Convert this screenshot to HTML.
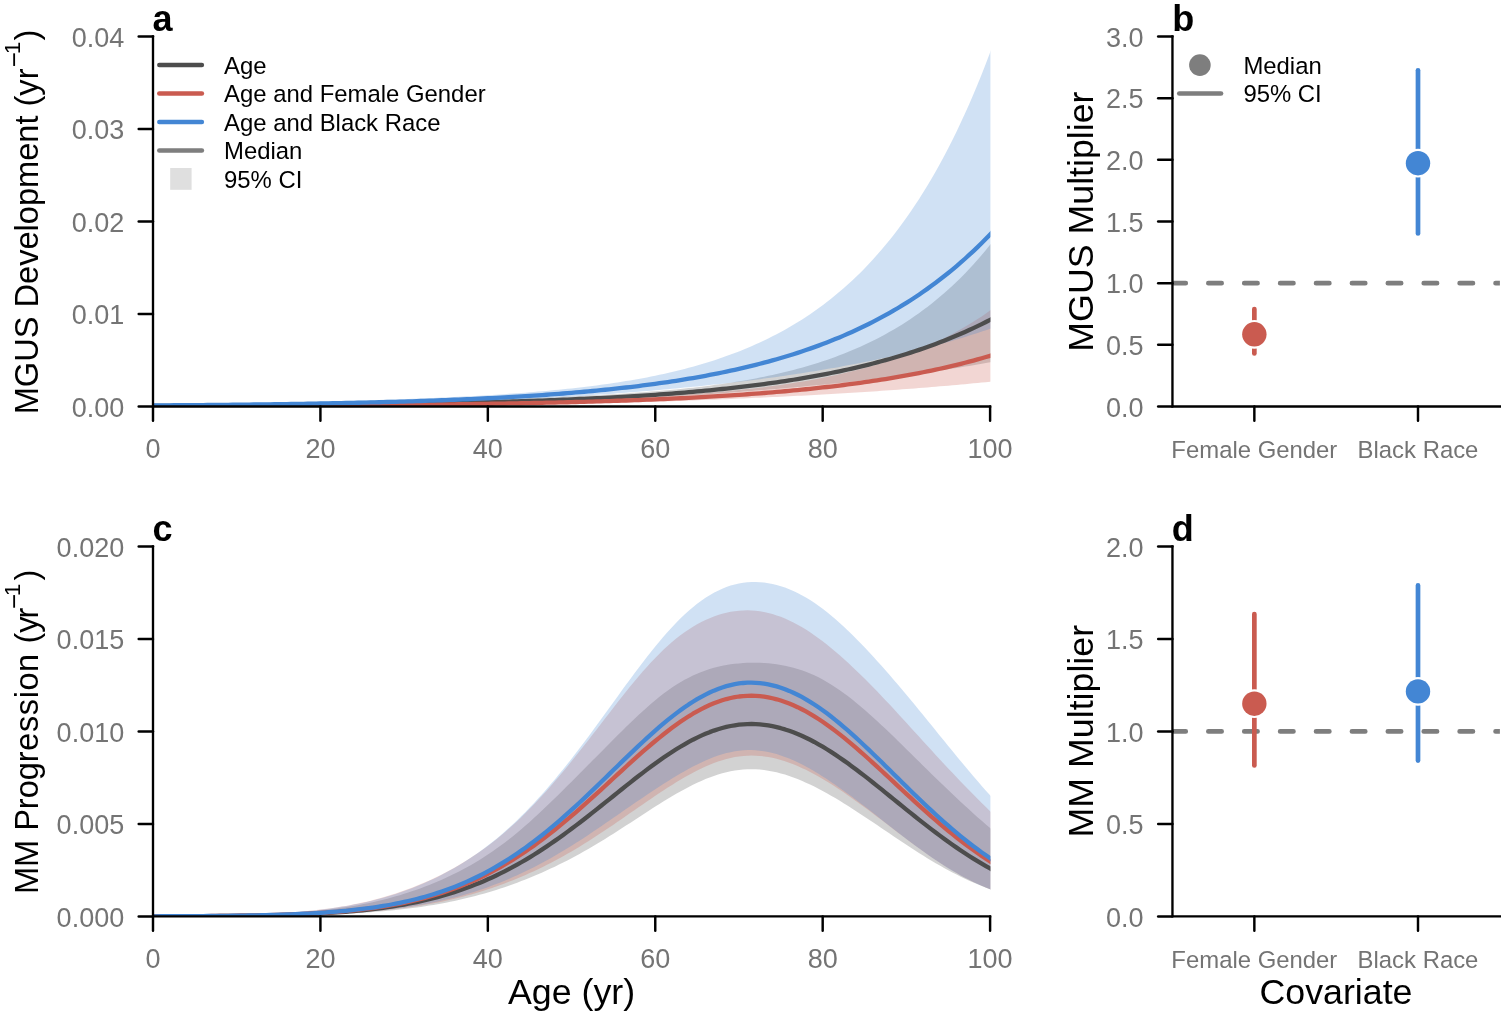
<!DOCTYPE html>
<html lang="en"><head><meta charset="utf-8"><title>Figure</title>
<style>html,body{margin:0;padding:0;background:#fff;}body{width:1501px;height:1022px;overflow:hidden;}svg{display:block;}</style>
</head><body>
<svg width="1501" height="1022" viewBox="0 0 1501 1022" font-family='"Liberation Sans", Arial, Helvetica, sans-serif'>
<rect width="1501" height="1022" fill="#fff"/>
<defs><clipPath id="clipA"><rect x="153.0" y="36.5" width="837.40" height="370.0"/></clipPath><clipPath id="clipC"><rect x="153.0" y="546.4" width="837.40" height="370.0"/></clipPath><clipPath id="clipB"><rect x="1172.45" y="36.5" width="327.45" height="370.0"/></clipPath><clipPath id="clipD"><rect x="1172.45" y="546.4" width="327.45" height="370.0"/></clipPath></defs>
<g id="panel-a">
<g clip-path="url(#clipA)">
<path d="M153.00,404.76 L157.19,404.73 L161.37,404.70 L165.56,404.67 L169.74,404.63 L173.93,404.60 L178.11,404.57 L182.30,404.54 L186.48,404.50 L190.67,404.47 L194.85,404.43 L199.04,404.40 L203.23,404.36 L207.41,404.32 L211.60,404.29 L215.78,404.25 L219.97,404.21 L224.15,404.17 L228.34,404.13 L232.52,404.09 L236.71,404.05 L240.90,404.01 L245.08,403.96 L249.27,403.92 L253.45,403.87 L257.64,403.83 L261.82,403.78 L266.01,403.74 L270.19,403.69 L274.38,403.64 L278.56,403.59 L282.75,403.54 L286.94,403.49 L291.12,403.43 L295.31,403.38 L299.49,403.33 L303.68,403.27 L307.86,403.22 L312.05,403.16 L316.23,403.10 L320.42,403.04 L324.61,402.98 L328.79,402.92 L332.98,402.86 L337.16,402.80 L341.35,402.73 L345.53,402.66 L349.72,402.60 L353.90,402.53 L358.09,402.46 L362.27,402.39 L366.46,402.32 L370.65,402.24 L374.83,402.17 L379.02,402.09 L383.20,402.02 L387.39,401.94 L391.57,401.86 L395.76,401.78 L399.94,401.69 L404.13,401.61 L408.32,401.52 L412.50,401.43 L416.69,401.34 L420.87,401.25 L425.06,401.16 L429.24,401.06 L433.43,400.97 L437.61,400.87 L441.80,400.77 L445.99,400.67 L450.17,400.56 L454.36,400.46 L458.54,400.35 L462.73,400.24 L466.91,400.12 L471.10,400.01 L475.28,399.89 L479.47,399.77 L483.65,399.65 L487.84,399.53 L492.03,399.40 L496.21,399.27 L500.40,399.14 L504.58,399.00 L508.77,398.87 L512.95,398.72 L517.14,398.58 L521.32,398.43 L525.51,398.28 L529.69,398.13 L533.88,397.98 L538.07,397.82 L542.25,397.65 L546.44,397.49 L550.62,397.31 L554.81,397.14 L558.99,396.96 L563.18,396.78 L567.36,396.59 L571.55,396.40 L575.74,396.20 L579.92,396.00 L584.11,395.79 L588.29,395.58 L592.48,395.36 L596.66,395.14 L600.85,394.91 L605.03,394.67 L609.22,394.43 L613.40,394.18 L617.59,393.93 L621.78,393.66 L625.96,393.39 L630.15,393.11 L634.33,392.82 L638.52,392.53 L642.70,392.22 L646.89,391.91 L651.07,391.58 L655.26,391.24 L659.45,390.90 L663.63,390.54 L667.82,390.16 L672.00,389.78 L676.19,389.38 L680.37,388.97 L684.56,388.54 L688.74,388.10 L692.93,387.65 L697.12,387.17 L701.30,386.68 L705.49,386.17 L709.67,385.64 L713.86,385.10 L718.04,384.53 L722.23,383.94 L726.41,383.33 L730.60,382.70 L734.78,382.04 L738.97,381.36 L743.16,380.66 L747.34,379.93 L751.53,379.17 L755.71,378.39 L759.90,377.58 L764.08,376.74 L768.27,375.86 L772.45,374.96 L776.64,374.03 L780.83,373.06 L785.01,372.06 L789.20,371.02 L793.38,369.94 L797.57,368.83 L801.75,367.68 L805.94,366.49 L810.12,365.26 L814.31,363.98 L818.49,362.66 L822.68,361.29 L826.87,359.88 L831.05,358.42 L835.24,356.91 L839.42,355.35 L843.61,353.73 L847.79,352.06 L851.98,350.33 L856.16,348.54 L860.35,346.69 L864.53,344.78 L868.72,342.80 L872.91,340.76 L877.09,338.65 L881.28,336.46 L885.46,334.20 L889.65,331.87 L893.83,329.45 L898.02,326.96 L902.20,324.38 L906.39,321.71 L910.58,318.95 L914.76,316.10 L918.95,313.16 L923.13,310.11 L927.32,306.96 L931.50,303.71 L935.69,300.35 L939.87,296.87 L944.06,293.28 L948.25,289.56 L952.43,285.72 L956.62,281.76 L960.80,277.65 L964.99,273.41 L969.17,269.03 L973.36,264.50 L977.54,259.82 L981.73,254.98 L985.91,249.98 L990.10,244.81 L994.29,239.47 L998.47,233.95 L998.47,360.83 L994.29,361.60 L990.10,362.35 L985.91,363.09 L981.73,363.82 L977.54,364.54 L973.36,365.24 L969.17,365.94 L964.99,366.62 L960.80,367.30 L956.62,367.96 L952.43,368.61 L948.25,369.25 L944.06,369.89 L939.87,370.51 L935.69,371.12 L931.50,371.73 L927.32,372.32 L923.13,372.91 L918.95,373.49 L914.76,374.05 L910.58,374.61 L906.39,375.17 L902.20,375.71 L898.02,376.24 L893.83,376.77 L889.65,377.29 L885.46,377.80 L881.28,378.31 L877.09,378.80 L872.91,379.29 L868.72,379.77 L864.53,380.25 L860.35,380.72 L856.16,381.18 L851.98,381.64 L847.79,382.09 L843.61,382.53 L839.42,382.96 L835.24,383.40 L831.05,383.82 L826.87,384.24 L822.68,384.65 L818.49,385.06 L814.31,385.47 L810.12,385.86 L805.94,386.26 L801.75,386.64 L797.57,387.03 L793.38,387.41 L789.20,387.78 L785.01,388.15 L780.83,388.52 L776.64,388.88 L772.45,389.23 L768.27,389.59 L764.08,389.93 L759.90,390.28 L755.71,390.62 L751.53,390.96 L747.34,391.29 L743.16,391.62 L738.97,391.95 L734.78,392.27 L730.60,392.59 L726.41,392.90 L722.23,393.21 L718.04,393.52 L713.86,393.83 L709.67,394.13 L705.49,394.43 L701.30,394.72 L697.12,395.01 L692.93,395.29 L688.74,395.58 L684.56,395.85 L680.37,396.13 L676.19,396.40 L672.00,396.66 L667.82,396.92 L663.63,397.18 L659.45,397.43 L655.26,397.68 L651.07,397.92 L646.89,398.16 L642.70,398.39 L638.52,398.62 L634.33,398.85 L630.15,399.06 L625.96,399.28 L621.78,399.49 L617.59,399.69 L613.40,399.89 L609.22,400.09 L605.03,400.28 L600.85,400.46 L596.66,400.64 L592.48,400.82 L588.29,400.99 L584.11,401.16 L579.92,401.32 L575.74,401.48 L571.55,401.63 L567.36,401.78 L563.18,401.93 L558.99,402.07 L554.81,402.21 L550.62,402.34 L546.44,402.47 L542.25,402.60 L538.07,402.72 L533.88,402.84 L529.69,402.95 L525.51,403.07 L521.32,403.17 L517.14,403.28 L512.95,403.38 L508.77,403.48 L504.58,403.58 L500.40,403.67 L496.21,403.76 L492.03,403.85 L487.84,403.93 L483.65,404.02 L479.47,404.10 L475.28,404.17 L471.10,404.25 L466.91,404.32 L462.73,404.39 L458.54,404.46 L454.36,404.52 L450.17,404.59 L445.99,404.65 L441.80,404.71 L437.61,404.77 L433.43,404.82 L429.24,404.88 L425.06,404.93 L420.87,404.98 L416.69,405.03 L412.50,405.08 L408.32,405.13 L404.13,405.17 L399.94,405.21 L395.76,405.26 L391.57,405.30 L387.39,405.33 L383.20,405.37 L379.02,405.41 L374.83,405.45 L370.65,405.48 L366.46,405.51 L362.27,405.55 L358.09,405.58 L353.90,405.61 L349.72,405.64 L345.53,405.66 L341.35,405.69 L337.16,405.72 L332.98,405.74 L328.79,405.77 L324.61,405.79 L320.42,405.82 L316.23,405.84 L312.05,405.86 L307.86,405.88 L303.68,405.90 L299.49,405.92 L295.31,405.94 L291.12,405.96 L286.94,405.98 L282.75,405.99 L278.56,406.01 L274.38,406.03 L270.19,406.04 L266.01,406.06 L261.82,406.07 L257.64,406.09 L253.45,406.10 L249.27,406.11 L245.08,406.13 L240.90,406.14 L236.71,406.15 L232.52,406.16 L228.34,406.17 L224.15,406.18 L219.97,406.19 L215.78,406.20 L211.60,406.21 L207.41,406.22 L203.23,406.23 L199.04,406.24 L194.85,406.25 L190.67,406.26 L186.48,406.27 L182.30,406.27 L178.11,406.28 L173.93,406.29 L169.74,406.30 L165.56,406.30 L161.37,406.31 L157.19,406.31 L153.00,406.32 Z" fill="#4D4D4D" fill-opacity="0.25" stroke="none"/>
<path d="M153.00,405.41 L157.19,405.39 L161.37,405.37 L165.56,405.35 L169.74,405.33 L173.93,405.31 L178.11,405.29 L182.30,405.27 L186.48,405.25 L190.67,405.23 L194.85,405.21 L199.04,405.19 L203.23,405.16 L207.41,405.14 L211.60,405.12 L215.78,405.09 L219.97,405.07 L224.15,405.04 L228.34,405.02 L232.52,404.99 L236.71,404.96 L240.90,404.94 L245.08,404.91 L249.27,404.88 L253.45,404.85 L257.64,404.82 L261.82,404.79 L266.01,404.76 L270.19,404.73 L274.38,404.70 L278.56,404.67 L282.75,404.64 L286.94,404.61 L291.12,404.57 L295.31,404.54 L299.49,404.51 L303.68,404.47 L307.86,404.43 L312.05,404.40 L316.23,404.36 L320.42,404.32 L324.61,404.28 L328.79,404.24 L332.98,404.20 L337.16,404.16 L341.35,404.12 L345.53,404.08 L349.72,404.04 L353.90,403.99 L358.09,403.95 L362.27,403.90 L366.46,403.86 L370.65,403.81 L374.83,403.76 L379.02,403.71 L383.20,403.66 L387.39,403.61 L391.57,403.56 L395.76,403.50 L399.94,403.45 L404.13,403.39 L408.32,403.34 L412.50,403.28 L416.69,403.22 L420.87,403.16 L425.06,403.10 L429.24,403.04 L433.43,402.98 L437.61,402.91 L441.80,402.85 L445.99,402.78 L450.17,402.71 L454.36,402.64 L458.54,402.57 L462.73,402.49 L466.91,402.42 L471.10,402.34 L475.28,402.27 L479.47,402.19 L483.65,402.11 L487.84,402.02 L492.03,401.94 L496.21,401.85 L500.40,401.76 L504.58,401.67 L508.77,401.58 L512.95,401.49 L517.14,401.39 L521.32,401.29 L525.51,401.19 L529.69,401.09 L533.88,400.98 L538.07,400.87 L542.25,400.76 L546.44,400.65 L550.62,400.53 L554.81,400.41 L558.99,400.29 L563.18,400.17 L567.36,400.04 L571.55,399.91 L575.74,399.77 L579.92,399.63 L584.11,399.49 L588.29,399.35 L592.48,399.20 L596.66,399.05 L600.85,398.89 L605.03,398.73 L609.22,398.56 L613.40,398.39 L617.59,398.22 L621.78,398.04 L625.96,397.85 L630.15,397.66 L634.33,397.46 L638.52,397.26 L642.70,397.05 L646.89,396.84 L651.07,396.62 L655.26,396.39 L659.45,396.16 L663.63,395.92 L667.82,395.67 L672.00,395.41 L676.19,395.15 L680.37,394.88 L684.56,394.60 L688.74,394.31 L692.93,394.01 L697.12,393.70 L701.30,393.38 L705.49,393.05 L709.67,392.71 L713.86,392.36 L718.04,392.00 L722.23,391.63 L726.41,391.24 L730.60,390.84 L734.78,390.43 L738.97,390.00 L743.16,389.56 L747.34,389.11 L751.53,388.64 L755.71,388.16 L759.90,387.66 L764.08,387.14 L768.27,386.60 L772.45,386.05 L776.64,385.48 L780.83,384.89 L785.01,384.29 L789.20,383.66 L793.38,383.01 L797.57,382.34 L801.75,381.65 L805.94,380.93 L810.12,380.19 L814.31,379.43 L818.49,378.64 L822.68,377.83 L826.87,376.98 L831.05,376.12 L835.24,375.22 L839.42,374.29 L843.61,373.34 L847.79,372.35 L851.98,371.33 L856.16,370.28 L860.35,369.19 L864.53,368.06 L868.72,366.91 L872.91,365.71 L877.09,364.47 L881.28,363.19 L885.46,361.88 L889.65,360.51 L893.83,359.11 L898.02,357.66 L902.20,356.16 L906.39,354.61 L910.58,353.01 L914.76,351.36 L918.95,349.66 L923.13,347.90 L927.32,346.09 L931.50,344.21 L935.69,342.28 L939.87,340.28 L944.06,338.22 L948.25,336.09 L952.43,333.89 L956.62,331.62 L960.80,329.28 L964.99,326.86 L969.17,324.36 L973.36,321.79 L977.54,319.12 L981.73,316.38 L985.91,313.54 L990.10,310.61 L994.29,307.59 L998.47,304.46 L998.47,380.84 L994.29,381.27 L990.10,381.70 L985.91,382.13 L981.73,382.54 L977.54,382.95 L973.36,383.36 L969.17,383.75 L964.99,384.14 L960.80,384.53 L956.62,384.91 L952.43,385.28 L948.25,385.65 L944.06,386.01 L939.87,386.37 L935.69,386.72 L931.50,387.07 L927.32,387.41 L923.13,387.75 L918.95,388.08 L914.76,388.40 L910.58,388.72 L906.39,389.04 L902.20,389.35 L898.02,389.66 L893.83,389.96 L889.65,390.26 L885.46,390.56 L881.28,390.85 L877.09,391.13 L872.91,391.41 L868.72,391.69 L864.53,391.96 L860.35,392.23 L856.16,392.50 L851.98,392.76 L847.79,393.02 L843.61,393.27 L839.42,393.52 L835.24,393.77 L831.05,394.02 L826.87,394.26 L822.68,394.49 L818.49,394.73 L814.31,394.96 L810.12,395.19 L805.94,395.41 L801.75,395.63 L797.57,395.85 L793.38,396.07 L789.20,396.28 L785.01,396.49 L780.83,396.69 L776.64,396.90 L772.45,397.10 L768.27,397.30 L764.08,397.49 L759.90,397.68 L755.71,397.87 L751.53,398.06 L747.34,398.25 L743.16,398.43 L738.97,398.61 L734.78,398.79 L730.60,398.96 L726.41,399.13 L722.23,399.30 L718.04,399.47 L713.86,399.63 L709.67,399.79 L705.49,399.95 L701.30,400.11 L697.12,400.26 L692.93,400.41 L688.74,400.56 L684.56,400.71 L680.37,400.85 L676.19,401.00 L672.00,401.13 L667.82,401.27 L663.63,401.40 L659.45,401.54 L655.26,401.67 L651.07,401.79 L646.89,401.92 L642.70,402.04 L638.52,402.16 L634.33,402.27 L630.15,402.39 L625.96,402.50 L621.78,402.61 L617.59,402.72 L613.40,402.82 L609.22,402.92 L605.03,403.02 L600.85,403.12 L596.66,403.21 L592.48,403.31 L588.29,403.40 L584.11,403.49 L579.92,403.57 L575.74,403.66 L571.55,403.74 L567.36,403.82 L563.18,403.90 L558.99,403.97 L554.81,404.05 L550.62,404.12 L546.44,404.19 L542.25,404.26 L538.07,404.32 L533.88,404.39 L529.69,404.45 L525.51,404.51 L521.32,404.57 L517.14,404.63 L512.95,404.69 L508.77,404.74 L504.58,404.80 L500.40,404.85 L496.21,404.90 L492.03,404.95 L487.84,404.99 L483.65,405.04 L479.47,405.08 L475.28,405.13 L471.10,405.17 L466.91,405.21 L462.73,405.25 L458.54,405.29 L454.36,405.33 L450.17,405.36 L445.99,405.40 L441.80,405.43 L437.61,405.47 L433.43,405.50 L429.24,405.53 L425.06,405.56 L420.87,405.59 L416.69,405.62 L412.50,405.64 L408.32,405.67 L404.13,405.70 L399.94,405.72 L395.76,405.75 L391.57,405.77 L387.39,405.79 L383.20,405.82 L379.02,405.84 L374.83,405.86 L370.65,405.88 L366.46,405.90 L362.27,405.92 L358.09,405.94 L353.90,405.95 L349.72,405.97 L345.53,405.99 L341.35,406.00 L337.16,406.02 L332.98,406.03 L328.79,406.05 L324.61,406.06 L320.42,406.08 L316.23,406.09 L312.05,406.10 L307.86,406.12 L303.68,406.13 L299.49,406.14 L295.31,406.15 L291.12,406.16 L286.94,406.17 L282.75,406.18 L278.56,406.19 L274.38,406.20 L270.19,406.21 L266.01,406.22 L261.82,406.23 L257.64,406.24 L253.45,406.25 L249.27,406.26 L245.08,406.26 L240.90,406.27 L236.71,406.28 L232.52,406.29 L228.34,406.29 L224.15,406.30 L219.97,406.31 L215.78,406.31 L211.60,406.32 L207.41,406.32 L203.23,406.33 L199.04,406.34 L194.85,406.34 L190.67,406.35 L186.48,406.35 L182.30,406.36 L178.11,406.36 L173.93,406.36 L169.74,406.37 L165.56,406.37 L161.37,406.38 L157.19,406.38 L153.00,406.38 Z" fill="#CA5B50" fill-opacity="0.25" stroke="none"/>
<path d="M153.00,404.21 L157.19,404.17 L161.37,404.13 L165.56,404.08 L169.74,404.03 L173.93,403.99 L178.11,403.94 L182.30,403.89 L186.48,403.84 L190.67,403.79 L194.85,403.73 L199.04,403.68 L203.23,403.62 L207.41,403.57 L211.60,403.51 L215.78,403.45 L219.97,403.40 L224.15,403.34 L228.34,403.27 L232.52,403.21 L236.71,403.15 L240.90,403.08 L245.08,403.02 L249.27,402.95 L253.45,402.88 L257.64,402.81 L261.82,402.73 L266.01,402.66 L270.19,402.59 L274.38,402.51 L278.56,402.43 L282.75,402.35 L286.94,402.27 L291.12,402.19 L295.31,402.10 L299.49,402.01 L303.68,401.93 L307.86,401.83 L312.05,401.74 L316.23,401.65 L320.42,401.55 L324.61,401.45 L328.79,401.35 L332.98,401.25 L337.16,401.14 L341.35,401.04 L345.53,400.93 L349.72,400.82 L353.90,400.70 L358.09,400.58 L362.27,400.46 L366.46,400.34 L370.65,400.22 L374.83,400.09 L379.02,399.96 L383.20,399.83 L387.39,399.69 L391.57,399.55 L395.76,399.41 L399.94,399.26 L404.13,399.11 L408.32,398.96 L412.50,398.80 L416.69,398.64 L420.87,398.47 L425.06,398.31 L429.24,398.13 L433.43,397.96 L437.61,397.77 L441.80,397.59 L445.99,397.40 L450.17,397.20 L454.36,397.00 L458.54,396.80 L462.73,396.59 L466.91,396.37 L471.10,396.15 L475.28,395.92 L479.47,395.69 L483.65,395.44 L487.84,395.20 L492.03,394.94 L496.21,394.68 L500.40,394.41 L504.58,394.14 L508.77,393.85 L512.95,393.56 L517.14,393.26 L521.32,392.95 L525.51,392.63 L529.69,392.30 L533.88,391.97 L538.07,391.62 L542.25,391.26 L546.44,390.89 L550.62,390.51 L554.81,390.11 L558.99,389.71 L563.18,389.29 L567.36,388.86 L571.55,388.41 L575.74,387.95 L579.92,387.48 L584.11,386.99 L588.29,386.48 L592.48,385.96 L596.66,385.42 L600.85,384.86 L605.03,384.29 L609.22,383.69 L613.40,383.08 L617.59,382.44 L621.78,381.79 L625.96,381.11 L630.15,380.41 L634.33,379.69 L638.52,378.94 L642.70,378.17 L646.89,377.38 L651.07,376.55 L655.26,375.70 L659.45,374.83 L663.63,373.92 L667.82,372.98 L672.00,372.01 L676.19,371.01 L680.37,369.98 L684.56,368.91 L688.74,367.81 L692.93,366.67 L697.12,365.50 L701.30,364.28 L705.49,363.03 L709.67,361.73 L713.86,360.39 L718.04,359.01 L722.23,357.58 L726.41,356.11 L730.60,354.59 L734.78,353.02 L738.97,351.39 L743.16,349.72 L747.34,347.99 L751.53,346.20 L755.71,344.36 L759.90,342.45 L764.08,340.49 L768.27,338.45 L772.45,336.36 L776.64,334.19 L780.83,331.96 L785.01,329.65 L789.20,327.27 L793.38,324.81 L797.57,322.27 L801.75,319.65 L805.94,316.94 L810.12,314.14 L814.31,311.26 L818.49,308.28 L822.68,305.20 L826.87,302.03 L831.05,298.75 L835.24,295.36 L839.42,291.87 L843.61,288.26 L847.79,284.54 L851.98,280.70 L856.16,276.73 L860.35,272.63 L864.53,268.40 L868.72,264.03 L872.91,259.53 L877.09,254.87 L881.28,250.07 L885.46,245.11 L889.65,239.99 L893.83,234.70 L898.02,229.24 L902.20,223.61 L906.39,217.79 L910.58,211.79 L914.76,205.59 L918.95,199.19 L923.13,192.58 L927.32,185.76 L931.50,178.72 L935.69,171.45 L939.87,163.95 L944.06,156.20 L948.25,148.20 L952.43,139.95 L956.62,131.42 L960.80,122.62 L964.99,113.54 L969.17,104.16 L973.36,94.48 L977.54,84.48 L981.73,74.16 L985.91,63.51 L990.10,52.51 L994.29,41.15 L998.47,29.43 L998.47,325.83 L994.29,327.31 L990.10,328.75 L985.91,330.18 L981.73,331.57 L977.54,332.95 L973.36,334.29 L969.17,335.62 L964.99,336.92 L960.80,338.20 L956.62,339.45 L952.43,340.68 L948.25,341.89 L944.06,343.08 L939.87,344.25 L935.69,345.40 L931.50,346.53 L927.32,347.63 L923.13,348.72 L918.95,349.79 L914.76,350.84 L910.58,351.87 L906.39,352.89 L902.20,353.88 L898.02,354.86 L893.83,355.82 L889.65,356.77 L885.46,357.69 L881.28,358.60 L877.09,359.50 L872.91,360.38 L868.72,361.24 L864.53,362.09 L860.35,362.93 L856.16,363.75 L851.98,364.55 L847.79,365.34 L843.61,366.12 L839.42,366.88 L835.24,367.64 L831.05,368.37 L826.87,369.10 L822.68,369.81 L818.49,370.51 L814.31,371.20 L810.12,371.87 L805.94,372.54 L801.75,373.19 L797.57,373.83 L793.38,374.47 L789.20,375.09 L785.01,375.70 L780.83,376.29 L776.64,376.88 L772.45,377.46 L768.27,378.03 L764.08,378.59 L759.90,379.14 L755.71,379.68 L751.53,380.21 L747.34,380.74 L743.16,381.25 L738.97,381.76 L734.78,382.25 L730.60,382.74 L726.41,383.22 L722.23,383.70 L718.04,384.16 L713.86,384.62 L709.67,385.07 L705.49,385.51 L701.30,385.95 L697.12,386.38 L692.93,386.80 L688.74,387.21 L684.56,387.62 L680.37,388.02 L676.19,388.42 L672.00,388.81 L667.82,389.19 L663.63,389.57 L659.45,389.94 L655.26,390.30 L651.07,390.66 L646.89,391.01 L642.70,391.36 L638.52,391.70 L634.33,392.04 L630.15,392.37 L625.96,392.69 L621.78,393.01 L617.59,393.33 L613.40,393.64 L609.22,393.94 L605.03,394.24 L600.85,394.54 L596.66,394.83 L592.48,395.11 L588.29,395.39 L584.11,395.66 L579.92,395.93 L575.74,396.20 L571.55,396.46 L567.36,396.71 L563.18,396.96 L558.99,397.21 L554.81,397.45 L550.62,397.69 L546.44,397.92 L542.25,398.15 L538.07,398.37 L533.88,398.59 L529.69,398.80 L525.51,399.01 L521.32,399.21 L517.14,399.41 L512.95,399.61 L508.77,399.80 L504.58,399.98 L500.40,400.17 L496.21,400.34 L492.03,400.52 L487.84,400.69 L483.65,400.85 L479.47,401.01 L475.28,401.17 L471.10,401.32 L466.91,401.47 L462.73,401.62 L458.54,401.76 L454.36,401.90 L450.17,402.03 L445.99,402.17 L441.80,402.29 L437.61,402.42 L433.43,402.54 L429.24,402.66 L425.06,402.77 L420.87,402.88 L416.69,402.99 L412.50,403.10 L408.32,403.20 L404.13,403.30 L399.94,403.39 L395.76,403.49 L391.57,403.58 L387.39,403.67 L383.20,403.75 L379.02,403.84 L374.83,403.92 L370.65,404.00 L366.46,404.07 L362.27,404.15 L358.09,404.22 L353.90,404.29 L349.72,404.36 L345.53,404.43 L341.35,404.49 L337.16,404.55 L332.98,404.61 L328.79,404.67 L324.61,404.73 L320.42,404.78 L316.23,404.83 L312.05,404.89 L307.86,404.94 L303.68,404.99 L299.49,405.03 L295.31,405.08 L291.12,405.12 L286.94,405.17 L282.75,405.21 L278.56,405.25 L274.38,405.29 L270.19,405.33 L266.01,405.36 L261.82,405.40 L257.64,405.43 L253.45,405.47 L249.27,405.50 L245.08,405.53 L240.90,405.56 L236.71,405.59 L232.52,405.62 L228.34,405.65 L224.15,405.67 L219.97,405.70 L215.78,405.72 L211.60,405.75 L207.41,405.77 L203.23,405.80 L199.04,405.82 L194.85,405.84 L190.67,405.86 L186.48,405.88 L182.30,405.90 L178.11,405.92 L173.93,405.94 L169.74,405.96 L165.56,405.97 L161.37,405.99 L157.19,406.01 L153.00,406.02 Z" fill="#4386D4" fill-opacity="0.25" stroke="none"/>
<path d="M153.00,405.92 L157.19,405.90 L161.37,405.89 L165.56,405.87 L169.74,405.85 L173.93,405.84 L178.11,405.82 L182.30,405.80 L186.48,405.79 L190.67,405.77 L194.85,405.75 L199.04,405.73 L203.23,405.71 L207.41,405.69 L211.60,405.67 L215.78,405.65 L219.97,405.63 L224.15,405.61 L228.34,405.58 L232.52,405.56 L236.71,405.54 L240.90,405.51 L245.08,405.49 L249.27,405.46 L253.45,405.44 L257.64,405.41 L261.82,405.38 L266.01,405.35 L270.19,405.32 L274.38,405.29 L278.56,405.26 L282.75,405.23 L286.94,405.20 L291.12,405.17 L295.31,405.13 L299.49,405.10 L303.68,405.06 L307.86,405.03 L312.05,404.99 L316.23,404.95 L320.42,404.91 L324.61,404.87 L328.79,404.83 L332.98,404.79 L337.16,404.75 L341.35,404.70 L345.53,404.66 L349.72,404.61 L353.90,404.56 L358.09,404.51 L362.27,404.46 L366.46,404.41 L370.65,404.36 L374.83,404.30 L379.02,404.25 L383.20,404.19 L387.39,404.13 L391.57,404.07 L395.76,404.01 L399.94,403.95 L404.13,403.88 L408.32,403.82 L412.50,403.75 L416.69,403.68 L420.87,403.61 L425.06,403.54 L429.24,403.46 L433.43,403.38 L437.61,403.30 L441.80,403.22 L445.99,403.14 L450.17,403.06 L454.36,402.97 L458.54,402.88 L462.73,402.79 L466.91,402.69 L471.10,402.60 L475.28,402.50 L479.47,402.40 L483.65,402.29 L487.84,402.19 L492.03,402.08 L496.21,401.97 L500.40,401.85 L504.58,401.73 L508.77,401.61 L512.95,401.49 L517.14,401.36 L521.32,401.23 L525.51,401.10 L529.69,400.96 L533.88,400.82 L538.07,400.68 L542.25,400.53 L546.44,400.38 L550.62,400.22 L554.81,400.07 L558.99,399.90 L563.18,399.74 L567.36,399.56 L571.55,399.39 L575.74,399.21 L579.92,399.02 L584.11,398.84 L588.29,398.64 L592.48,398.44 L596.66,398.24 L600.85,398.03 L605.03,397.82 L609.22,397.60 L613.40,397.37 L617.59,397.14 L621.78,396.90 L625.96,396.66 L630.15,396.41 L634.33,396.15 L638.52,395.89 L642.70,395.62 L646.89,395.35 L651.07,395.07 L655.26,394.78 L659.45,394.48 L663.63,394.18 L667.82,393.86 L672.00,393.54 L676.19,393.22 L680.37,392.88 L684.56,392.53 L688.74,392.18 L692.93,391.82 L697.12,391.45 L701.30,391.07 L705.49,390.68 L709.67,390.27 L713.86,389.86 L718.04,389.44 L722.23,389.01 L726.41,388.57 L730.60,388.11 L734.78,387.65 L738.97,387.17 L743.16,386.68 L747.34,386.18 L751.53,385.67 L755.71,385.14 L759.90,384.60 L764.08,384.04 L768.27,383.47 L772.45,382.89 L776.64,382.29 L780.83,381.68 L785.01,381.05 L789.20,380.41 L793.38,379.75 L797.57,379.07 L801.75,378.38 L805.94,377.67 L810.12,376.94 L814.31,376.19 L818.49,375.42 L822.68,374.63 L826.87,373.83 L831.05,373.00 L835.24,372.15 L839.42,371.28 L843.61,370.39 L847.79,369.48 L851.98,368.54 L856.16,367.58 L860.35,366.59 L864.53,365.58 L868.72,364.55 L872.91,363.48 L877.09,362.39 L881.28,361.28 L885.46,360.13 L889.65,358.96 L893.83,357.76 L898.02,356.52 L902.20,355.26 L906.39,353.96 L910.58,352.63 L914.76,351.27 L918.95,349.87 L923.13,348.43 L927.32,346.96 L931.50,345.46 L935.69,343.91 L939.87,342.33 L944.06,340.70 L948.25,339.04 L952.43,337.33 L956.62,335.58 L960.80,333.78 L964.99,331.94 L969.17,330.05 L973.36,328.12 L977.54,326.13 L981.73,324.10 L985.91,322.01 L990.10,319.87 L994.29,317.68 L998.47,315.43" fill="none" stroke="#4D4D4D" stroke-width="4.3" stroke-linejoin="round" stroke-linecap="butt"/>
<path d="M153.00,406.12 L157.19,406.11 L161.37,406.10 L165.56,406.09 L169.74,406.08 L173.93,406.07 L178.11,406.06 L182.30,406.05 L186.48,406.04 L190.67,406.03 L194.85,406.02 L199.04,406.01 L203.23,405.99 L207.41,405.98 L211.60,405.97 L215.78,405.95 L219.97,405.94 L224.15,405.93 L228.34,405.91 L232.52,405.90 L236.71,405.88 L240.90,405.87 L245.08,405.85 L249.27,405.84 L253.45,405.82 L257.64,405.80 L261.82,405.79 L266.01,405.77 L270.19,405.75 L274.38,405.73 L278.56,405.71 L282.75,405.69 L286.94,405.67 L291.12,405.65 L295.31,405.63 L299.49,405.61 L303.68,405.59 L307.86,405.57 L312.05,405.54 L316.23,405.52 L320.42,405.49 L324.61,405.47 L328.79,405.44 L332.98,405.42 L337.16,405.39 L341.35,405.36 L345.53,405.34 L349.72,405.31 L353.90,405.28 L358.09,405.25 L362.27,405.22 L366.46,405.18 L370.65,405.15 L374.83,405.12 L379.02,405.08 L383.20,405.05 L387.39,405.01 L391.57,404.97 L395.76,404.94 L399.94,404.90 L404.13,404.86 L408.32,404.82 L412.50,404.78 L416.69,404.73 L420.87,404.69 L425.06,404.64 L429.24,404.60 L433.43,404.55 L437.61,404.50 L441.80,404.45 L445.99,404.40 L450.17,404.35 L454.36,404.30 L458.54,404.24 L462.73,404.19 L466.91,404.13 L471.10,404.07 L475.28,404.01 L479.47,403.95 L483.65,403.89 L487.84,403.82 L492.03,403.75 L496.21,403.69 L500.40,403.62 L504.58,403.54 L508.77,403.47 L512.95,403.40 L517.14,403.32 L521.32,403.24 L525.51,403.16 L529.69,403.08 L533.88,402.99 L538.07,402.90 L542.25,402.82 L546.44,402.72 L550.62,402.63 L554.81,402.53 L558.99,402.44 L563.18,402.34 L567.36,402.23 L571.55,402.13 L575.74,402.02 L579.92,401.91 L584.11,401.79 L588.29,401.68 L592.48,401.56 L596.66,401.43 L600.85,401.31 L605.03,401.18 L609.22,401.05 L613.40,400.91 L617.59,400.77 L621.78,400.63 L625.96,400.49 L630.15,400.34 L634.33,400.18 L638.52,400.03 L642.70,399.87 L646.89,399.70 L651.07,399.53 L655.26,399.36 L659.45,399.18 L663.63,399.00 L667.82,398.82 L672.00,398.63 L676.19,398.43 L680.37,398.23 L684.56,398.03 L688.74,397.82 L692.93,397.60 L697.12,397.38 L701.30,397.15 L705.49,396.92 L709.67,396.68 L713.86,396.44 L718.04,396.19 L722.23,395.93 L726.41,395.67 L730.60,395.40 L734.78,395.13 L738.97,394.85 L743.16,394.56 L747.34,394.26 L751.53,393.96 L755.71,393.65 L759.90,393.33 L764.08,393.00 L768.27,392.67 L772.45,392.32 L776.64,391.97 L780.83,391.61 L785.01,391.24 L789.20,390.86 L793.38,390.48 L797.57,390.08 L801.75,389.67 L805.94,389.25 L810.12,388.83 L814.31,388.39 L818.49,387.94 L822.68,387.48 L826.87,387.01 L831.05,386.52 L835.24,386.03 L839.42,385.52 L843.61,385.00 L847.79,384.47 L851.98,383.92 L856.16,383.36 L860.35,382.79 L864.53,382.20 L868.72,381.60 L872.91,380.98 L877.09,380.34 L881.28,379.70 L885.46,379.03 L889.65,378.35 L893.83,377.65 L898.02,376.94 L902.20,376.20 L906.39,375.45 L910.58,374.68 L914.76,373.89 L918.95,373.08 L923.13,372.25 L927.32,371.41 L931.50,370.53 L935.69,369.64 L939.87,368.73 L944.06,367.79 L948.25,366.83 L952.43,365.85 L956.62,364.84 L960.80,363.81 L964.99,362.75 L969.17,361.66 L973.36,360.55 L977.54,359.41 L981.73,358.24 L985.91,357.05 L990.10,355.82 L994.29,354.56 L998.47,353.27" fill="none" stroke="#CA5B50" stroke-width="4.3" stroke-linejoin="round" stroke-linecap="butt"/>
<path d="M153.00,405.41 L157.19,405.39 L161.37,405.36 L165.56,405.33 L169.74,405.30 L173.93,405.27 L178.11,405.24 L182.30,405.20 L186.48,405.17 L190.67,405.14 L194.85,405.10 L199.04,405.07 L203.23,405.03 L207.41,404.99 L211.60,404.95 L215.78,404.91 L219.97,404.87 L224.15,404.83 L228.34,404.79 L232.52,404.74 L236.71,404.70 L240.90,404.65 L245.08,404.60 L249.27,404.56 L253.45,404.51 L257.64,404.45 L261.82,404.40 L266.01,404.35 L270.19,404.29 L274.38,404.24 L278.56,404.18 L282.75,404.12 L286.94,404.06 L291.12,404.00 L295.31,403.93 L299.49,403.87 L303.68,403.80 L307.86,403.73 L312.05,403.66 L316.23,403.58 L320.42,403.51 L324.61,403.43 L328.79,403.35 L332.98,403.27 L337.16,403.19 L341.35,403.11 L345.53,403.02 L349.72,402.93 L353.90,402.84 L358.09,402.74 L362.27,402.65 L366.46,402.55 L370.65,402.45 L374.83,402.34 L379.02,402.24 L383.20,402.13 L387.39,402.02 L391.57,401.90 L395.76,401.78 L399.94,401.66 L404.13,401.54 L408.32,401.41 L412.50,401.28 L416.69,401.15 L420.87,401.01 L425.06,400.87 L429.24,400.72 L433.43,400.57 L437.61,400.42 L441.80,400.27 L445.99,400.11 L450.17,399.94 L454.36,399.77 L458.54,399.60 L462.73,399.43 L466.91,399.24 L471.10,399.06 L475.28,398.87 L479.47,398.67 L483.65,398.47 L487.84,398.26 L492.03,398.05 L496.21,397.84 L500.40,397.61 L504.58,397.39 L508.77,397.15 L512.95,396.91 L517.14,396.67 L521.32,396.41 L525.51,396.16 L529.69,395.89 L533.88,395.62 L538.07,395.34 L542.25,395.05 L546.44,394.76 L550.62,394.46 L554.81,394.15 L558.99,393.83 L563.18,393.51 L567.36,393.18 L571.55,392.83 L575.74,392.48 L579.92,392.12 L584.11,391.75 L588.29,391.38 L592.48,390.99 L596.66,390.59 L600.85,390.18 L605.03,389.76 L609.22,389.33 L613.40,388.89 L617.59,388.44 L621.78,387.98 L625.96,387.50 L630.15,387.02 L634.33,386.52 L638.52,386.01 L642.70,385.48 L646.89,384.94 L651.07,384.39 L655.26,383.82 L659.45,383.24 L663.63,382.64 L667.82,382.03 L672.00,381.40 L676.19,380.76 L680.37,380.10 L684.56,379.42 L688.74,378.73 L692.93,378.01 L697.12,377.28 L701.30,376.53 L705.49,375.77 L709.67,374.98 L713.86,374.17 L718.04,373.34 L722.23,372.49 L726.41,371.62 L730.60,370.72 L734.78,369.81 L738.97,368.86 L743.16,367.90 L747.34,366.91 L751.53,365.89 L755.71,364.85 L759.90,363.78 L764.08,362.69 L768.27,361.56 L772.45,360.41 L776.64,359.23 L780.83,358.02 L785.01,356.77 L789.20,355.50 L793.38,354.19 L797.57,352.85 L801.75,351.47 L805.94,350.06 L810.12,348.61 L814.31,347.13 L818.49,345.61 L822.68,344.04 L826.87,342.44 L831.05,340.80 L835.24,339.11 L839.42,337.39 L843.61,335.61 L847.79,333.80 L851.98,331.93 L856.16,330.02 L860.35,328.06 L864.53,326.04 L868.72,323.98 L872.91,321.86 L877.09,319.69 L881.28,317.47 L885.46,315.18 L889.65,312.84 L893.83,310.44 L898.02,307.98 L902.20,305.45 L906.39,302.86 L910.58,300.20 L914.76,297.47 L918.95,294.68 L923.13,291.81 L927.32,288.87 L931.50,285.85 L935.69,282.75 L939.87,279.58 L944.06,276.32 L948.25,272.99 L952.43,269.56 L956.62,266.05 L960.80,262.45 L964.99,258.75 L969.17,254.96 L973.36,251.08 L977.54,247.09 L981.73,243.00 L985.91,238.81 L990.10,234.51 L994.29,230.10 L998.47,225.57" fill="none" stroke="#4386D4" stroke-width="4.3" stroke-linejoin="round" stroke-linecap="butt"/>
</g>
<path d="M153.00,36.50 L153.00,406.50 L990.10,406.50" fill="none" stroke="#000" stroke-width="2.35" stroke-linecap="square" stroke-linejoin="miter"/>
<line x1="153.00" y1="406.50" x2="153.00" y2="420.80" stroke="#000" stroke-width="2.45" stroke-linecap="round"/>
<line x1="320.42" y1="406.50" x2="320.42" y2="420.80" stroke="#000" stroke-width="2.45" stroke-linecap="round"/>
<line x1="487.84" y1="406.50" x2="487.84" y2="420.80" stroke="#000" stroke-width="2.45" stroke-linecap="round"/>
<line x1="655.26" y1="406.50" x2="655.26" y2="420.80" stroke="#000" stroke-width="2.45" stroke-linecap="round"/>
<line x1="822.68" y1="406.50" x2="822.68" y2="420.80" stroke="#000" stroke-width="2.45" stroke-linecap="round"/>
<line x1="990.10" y1="406.50" x2="990.10" y2="420.80" stroke="#000" stroke-width="2.45" stroke-linecap="round"/>
<line x1="153.00" y1="406.50" x2="138.70" y2="406.50" stroke="#000" stroke-width="2.45" stroke-linecap="round"/>
<line x1="153.00" y1="314.00" x2="138.70" y2="314.00" stroke="#000" stroke-width="2.45" stroke-linecap="round"/>
<line x1="153.00" y1="221.50" x2="138.70" y2="221.50" stroke="#000" stroke-width="2.45" stroke-linecap="round"/>
<line x1="153.00" y1="129.00" x2="138.70" y2="129.00" stroke="#000" stroke-width="2.45" stroke-linecap="round"/>
<line x1="153.00" y1="36.50" x2="138.70" y2="36.50" stroke="#000" stroke-width="2.45" stroke-linecap="round"/>
<text x="153.00" y="458.20" font-size="27" fill="#747474" text-anchor="middle">0</text>
<text x="320.42" y="458.20" font-size="27" fill="#747474" text-anchor="middle">20</text>
<text x="487.84" y="458.20" font-size="27" fill="#747474" text-anchor="middle">40</text>
<text x="655.26" y="458.20" font-size="27" fill="#747474" text-anchor="middle">60</text>
<text x="822.68" y="458.20" font-size="27" fill="#747474" text-anchor="middle">80</text>
<text x="990.10" y="458.20" font-size="27" fill="#747474" text-anchor="middle">100</text>
<text x="124.20" y="416.60" font-size="27" fill="#747474" text-anchor="end">0.00</text>
<text x="124.20" y="324.10" font-size="27" fill="#747474" text-anchor="end">0.01</text>
<text x="124.20" y="231.60" font-size="27" fill="#747474" text-anchor="end">0.02</text>
<text x="124.20" y="139.10" font-size="27" fill="#747474" text-anchor="end">0.03</text>
<text x="124.20" y="46.60" font-size="27" fill="#747474" text-anchor="end">0.04</text>
<line x1="159.3" y1="65.05" x2="201.9" y2="65.05" stroke="#4D4D4D" stroke-width="4.5" stroke-linecap="round"/>
<line x1="159.3" y1="93.5" x2="201.9" y2="93.5" stroke="#CA5B50" stroke-width="4.5" stroke-linecap="round"/>
<line x1="159.3" y1="122.0" x2="201.9" y2="122.0" stroke="#4386D4" stroke-width="4.5" stroke-linecap="round"/>
<line x1="159.3" y1="150.45" x2="201.9" y2="150.45" stroke="#7E7E7E" stroke-width="4.5" stroke-linecap="round"/>
<rect x="170.2" y="168" width="21.4" height="21.8" fill="#7E7E7E" fill-opacity="0.25"/>
<text x="224" y="74.0" font-size="23.9" fill="#000">Age</text>
<text x="224" y="102.3" font-size="23.9" fill="#000">Age and Female Gender</text>
<text x="224" y="130.8" font-size="23.9" fill="#000">Age and Black Race</text>
<text x="224" y="159.2" font-size="23.9" fill="#000">Median</text>
<text x="224" y="187.6" font-size="23.9" fill="#000">95% CI</text>
<text x="152.6" y="31.2" font-size="36" font-weight="bold" fill="#000">a</text>
<text transform="translate(37.6,222.0) rotate(-90)" font-size="32.6" fill="#000" text-anchor="middle">MGUS Development (yr<tspan font-size="26" dy="-14.15" dx="1.3">−</tspan><tspan font-size="22.5" dy="-3.85" dx="-2.3">1</tspan><tspan dy="18" dx="1.2">)</tspan></text>
</g>
<g id="panel-c">
<g clip-path="url(#clipC)">
<path d="M153.00,916.21 L157.19,916.20 L161.37,916.17 L165.56,916.15 L169.74,916.13 L173.93,916.10 L178.11,916.07 L182.30,916.04 L186.48,916.00 L190.67,915.96 L194.85,915.92 L199.04,915.88 L203.23,915.83 L207.41,915.77 L211.60,915.71 L215.78,915.65 L219.97,915.58 L224.15,915.50 L228.34,915.42 L232.52,915.33 L236.71,915.23 L240.90,915.12 L245.08,915.01 L249.27,914.89 L253.45,914.75 L257.64,914.61 L261.82,914.45 L266.01,914.28 L270.19,914.10 L274.38,913.90 L278.56,913.69 L282.75,913.46 L286.94,913.21 L291.12,912.95 L295.31,912.67 L299.49,912.36 L303.68,912.03 L307.86,911.68 L312.05,911.31 L316.23,910.91 L320.42,910.48 L324.61,910.02 L328.79,909.53 L332.98,909.01 L337.16,908.46 L341.35,907.87 L345.53,907.25 L349.72,906.58 L353.90,905.88 L358.09,905.14 L362.27,904.35 L366.46,903.52 L370.65,902.65 L374.83,901.72 L379.02,900.75 L383.20,899.73 L387.39,898.66 L391.57,897.54 L395.76,896.36 L399.94,895.13 L404.13,893.84 L408.32,892.50 L412.50,891.11 L416.69,889.65 L420.87,888.14 L425.06,886.57 L429.24,884.94 L433.43,883.25 L437.61,881.50 L441.80,879.68 L445.99,877.79 L450.17,875.84 L454.36,873.81 L458.54,871.71 L462.73,869.53 L466.91,867.27 L471.10,864.92 L475.28,862.49 L479.47,859.96 L483.65,857.33 L487.84,854.61 L492.03,851.79 L496.21,848.87 L500.40,845.84 L504.58,842.71 L508.77,839.48 L512.95,836.15 L517.14,832.73 L521.32,829.20 L525.51,825.59 L529.69,821.89 L533.88,818.12 L538.07,814.26 L542.25,810.35 L546.44,806.37 L550.62,802.34 L554.81,798.27 L558.99,794.17 L563.18,790.03 L567.36,785.86 L571.55,781.68 L575.74,777.49 L579.92,773.28 L584.11,769.07 L588.29,764.85 L592.48,760.62 L596.66,756.40 L600.85,752.17 L605.03,747.95 L609.22,743.74 L613.40,739.53 L617.59,735.35 L621.78,731.19 L625.96,727.07 L630.15,723.00 L634.33,718.98 L638.52,715.04 L642.70,711.18 L646.89,707.42 L651.07,703.77 L655.26,700.24 L659.45,696.85 L663.63,693.61 L667.82,690.52 L672.00,687.60 L676.19,684.85 L680.37,682.27 L684.56,679.86 L688.74,677.64 L692.93,675.59 L697.12,673.71 L701.30,672.01 L705.49,670.47 L709.67,669.09 L713.86,667.86 L718.04,666.78 L722.23,665.84 L726.41,665.04 L730.60,664.36 L734.78,663.81 L738.97,663.38 L743.16,663.05 L747.34,662.85 L751.53,662.75 L755.71,662.75 L759.90,662.85 L764.08,663.05 L768.27,663.36 L772.45,663.77 L776.64,664.29 L780.83,664.94 L785.01,665.72 L789.20,666.63 L793.38,667.68 L797.57,668.89 L801.75,670.25 L805.94,671.78 L810.12,673.47 L814.31,675.33 L818.49,677.36 L822.68,679.56 L826.87,681.92 L831.05,684.44 L835.24,687.13 L839.42,689.96 L843.61,692.94 L847.79,696.06 L851.98,699.31 L856.16,702.67 L860.35,706.15 L864.53,709.73 L868.72,713.40 L872.91,717.15 L877.09,720.98 L881.28,724.88 L885.46,728.83 L889.65,732.83 L893.83,736.86 L898.02,740.93 L902.20,745.03 L906.39,749.14 L910.58,753.27 L914.76,757.40 L918.95,761.53 L923.13,765.66 L927.32,769.77 L931.50,773.88 L935.69,777.96 L939.87,782.03 L944.06,786.07 L948.25,790.08 L952.43,794.06 L956.62,798.01 L960.80,801.92 L964.99,805.79 L969.17,809.62 L973.36,813.40 L977.54,817.13 L981.73,820.81 L985.91,824.43 L990.10,827.99 L994.29,831.48 L998.47,834.91 L998.47,892.31 L994.29,890.85 L990.10,889.32 L985.91,887.73 L981.73,886.07 L977.54,884.33 L973.36,882.53 L969.17,880.65 L964.99,878.70 L960.80,876.68 L956.62,874.60 L952.43,872.44 L948.25,870.21 L944.06,867.92 L939.87,865.56 L935.69,863.14 L931.50,860.66 L927.32,858.13 L923.13,855.55 L918.95,852.92 L914.76,850.25 L910.58,847.54 L906.39,844.80 L902.20,842.03 L898.02,839.23 L893.83,836.42 L889.65,833.60 L885.46,830.76 L881.28,827.93 L877.09,825.10 L872.91,822.27 L868.72,819.46 L864.53,816.67 L860.35,813.90 L856.16,811.16 L851.98,808.45 L847.79,805.79 L843.61,803.17 L839.42,800.60 L835.24,798.10 L831.05,795.65 L826.87,793.27 L822.68,790.97 L818.49,788.75 L814.31,786.62 L810.12,784.57 L805.94,782.63 L801.75,780.79 L797.57,779.07 L793.38,777.46 L789.20,775.98 L785.01,774.62 L780.83,773.41 L776.64,772.34 L772.45,771.42 L768.27,770.66 L764.08,770.05 L759.90,769.61 L755.71,769.33 L751.53,769.22 L747.34,769.28 L743.16,769.52 L738.97,769.94 L734.78,770.53 L730.60,771.29 L726.41,772.22 L722.23,773.31 L718.04,774.55 L713.86,775.93 L709.67,777.46 L705.49,779.12 L701.30,780.91 L697.12,782.81 L692.93,784.82 L688.74,786.93 L684.56,789.14 L680.37,791.43 L676.19,793.80 L672.00,796.24 L667.82,798.74 L663.63,801.30 L659.45,803.90 L655.26,806.55 L651.07,809.23 L646.89,811.94 L642.70,814.66 L638.52,817.40 L634.33,820.15 L630.15,822.89 L625.96,825.62 L621.78,828.34 L617.59,831.04 L613.40,833.71 L609.22,836.35 L605.03,838.96 L600.85,841.52 L596.66,844.05 L592.48,846.53 L588.29,848.96 L584.11,851.35 L579.92,853.68 L575.74,855.97 L571.55,858.20 L567.36,860.38 L563.18,862.52 L558.99,864.60 L554.81,866.63 L550.62,868.61 L546.44,870.54 L542.25,872.42 L538.07,874.25 L533.88,876.03 L529.69,877.76 L525.51,879.45 L521.32,881.08 L517.14,882.67 L512.95,884.21 L508.77,885.70 L504.58,887.15 L500.40,888.54 L496.21,889.90 L492.03,891.20 L487.84,892.46 L483.65,893.68 L479.47,894.85 L475.28,895.97 L471.10,897.05 L466.91,898.09 L462.73,899.08 L458.54,900.04 L454.36,900.95 L450.17,901.82 L445.99,902.65 L441.80,903.45 L437.61,904.21 L433.43,904.93 L429.24,905.61 L425.06,906.26 L420.87,906.88 L416.69,907.47 L412.50,908.02 L408.32,908.55 L404.13,909.05 L399.94,909.52 L395.76,909.96 L391.57,910.38 L387.39,910.78 L383.20,911.15 L379.02,911.50 L374.83,911.83 L370.65,912.14 L366.46,912.43 L362.27,912.71 L358.09,912.96 L353.90,913.20 L349.72,913.43 L345.53,913.64 L341.35,913.83 L337.16,914.02 L332.98,914.19 L328.79,914.35 L324.61,914.50 L320.42,914.64 L316.23,914.77 L312.05,914.89 L307.86,915.00 L303.68,915.11 L299.49,915.20 L295.31,915.30 L291.12,915.38 L286.94,915.46 L282.75,915.53 L278.56,915.60 L274.38,915.66 L270.19,915.72 L266.01,915.77 L261.82,915.82 L257.64,915.87 L253.45,915.91 L249.27,915.95 L245.08,915.99 L240.90,916.02 L236.71,916.05 L232.52,916.08 L228.34,916.11 L224.15,916.13 L219.97,916.16 L215.78,916.18 L211.60,916.20 L207.41,916.21 L203.23,916.23 L199.04,916.25 L194.85,916.26 L190.67,916.27 L186.48,916.28 L182.30,916.29 L178.11,916.30 L173.93,916.31 L169.74,916.32 L165.56,916.33 L161.37,916.33 L157.19,916.34 L153.00,916.35 Z" fill="#4D4D4D" fill-opacity="0.25" stroke="none"/>
<path d="M153.00,916.19 L157.19,916.17 L161.37,916.14 L165.56,916.12 L169.74,916.09 L173.93,916.06 L178.11,916.02 L182.30,915.98 L186.48,915.94 L190.67,915.90 L194.85,915.85 L199.04,915.80 L203.23,915.74 L207.41,915.68 L211.60,915.61 L215.78,915.54 L219.97,915.46 L224.15,915.37 L228.34,915.27 L232.52,915.17 L236.71,915.06 L240.90,914.94 L245.08,914.81 L249.27,914.66 L253.45,914.51 L257.64,914.34 L261.82,914.16 L266.01,913.97 L270.19,913.76 L274.38,913.53 L278.56,913.29 L282.75,913.03 L286.94,912.75 L291.12,912.44 L295.31,912.12 L299.49,911.77 L303.68,911.39 L307.86,910.99 L312.05,910.56 L316.23,910.10 L320.42,909.61 L324.61,909.08 L328.79,908.52 L332.98,907.92 L337.16,907.29 L341.35,906.62 L345.53,905.90 L349.72,905.14 L353.90,904.33 L358.09,903.48 L362.27,902.58 L366.46,901.63 L370.65,900.63 L374.83,899.57 L379.02,898.46 L383.20,897.29 L387.39,896.06 L391.57,894.77 L395.76,893.42 L399.94,892.01 L404.13,890.54 L408.32,889.01 L412.50,887.41 L416.69,885.75 L420.87,884.03 L425.06,882.24 L429.24,880.38 L433.43,878.45 L437.61,876.46 L441.80,874.39 L445.99,872.24 L450.17,870.02 L454.36,867.72 L458.54,865.33 L462.73,862.85 L466.91,860.29 L471.10,857.62 L475.28,854.86 L479.47,851.99 L483.65,849.02 L487.84,845.94 L492.03,842.74 L496.21,839.43 L500.40,836.01 L504.58,832.47 L508.77,828.82 L512.95,825.05 L517.14,821.16 L521.32,817.16 L525.51,813.05 L529.69,808.83 L533.88,804.50 L538.07,800.07 L542.25,795.54 L546.44,790.91 L550.62,786.18 L554.81,781.36 L558.99,776.46 L563.18,771.48 L567.36,766.42 L571.55,761.29 L575.74,756.10 L579.92,750.84 L584.11,745.54 L588.29,740.19 L592.48,734.81 L596.66,729.41 L600.85,723.98 L605.03,718.55 L609.22,713.13 L613.40,707.72 L617.59,702.35 L621.78,697.02 L625.96,691.75 L630.15,686.56 L634.33,681.46 L638.52,676.47 L642.70,671.61 L646.89,666.88 L651.07,662.30 L655.26,657.89 L659.45,653.65 L663.63,649.60 L667.82,645.73 L672.00,642.06 L676.19,638.59 L680.37,635.33 L684.56,632.26 L688.74,629.40 L692.93,626.75 L697.12,624.29 L701.30,622.04 L705.49,619.99 L709.67,618.14 L713.86,616.48 L718.04,615.03 L722.23,613.77 L726.41,612.70 L730.60,611.84 L734.78,611.17 L738.97,610.70 L743.16,610.44 L747.34,610.37 L751.53,610.51 L755.71,610.85 L759.90,611.37 L764.08,612.09 L768.27,612.99 L772.45,614.09 L776.64,615.38 L780.83,616.87 L785.01,618.54 L789.20,620.40 L793.38,622.44 L797.57,624.65 L801.75,627.04 L805.94,629.59 L810.12,632.30 L814.31,635.16 L818.49,638.17 L822.68,641.30 L826.87,644.56 L831.05,647.94 L835.24,651.44 L839.42,655.04 L843.61,658.73 L847.79,662.53 L851.98,666.41 L856.16,670.38 L860.35,674.43 L864.53,678.55 L868.72,682.75 L872.91,687.01 L877.09,691.33 L881.28,695.71 L885.46,700.14 L889.65,704.61 L893.83,709.12 L898.02,713.66 L902.20,718.23 L906.39,722.81 L910.58,727.40 L914.76,732.00 L918.95,736.59 L923.13,741.18 L927.32,745.76 L931.50,750.33 L935.69,754.88 L939.87,759.40 L944.06,763.91 L948.25,768.38 L952.43,772.83 L956.62,777.25 L960.80,781.64 L964.99,785.98 L969.17,790.29 L973.36,794.56 L977.54,798.78 L981.73,802.95 L985.91,807.07 L990.10,811.13 L994.29,815.12 L998.47,819.06 L998.47,892.49 L994.29,890.93 L990.10,889.29 L985.91,887.57 L981.73,885.76 L977.54,883.86 L973.36,881.88 L969.17,879.80 L964.99,877.63 L960.80,875.38 L956.62,873.03 L952.43,870.60 L948.25,868.07 L944.06,865.47 L939.87,862.78 L935.69,860.01 L931.50,857.18 L927.32,854.27 L923.13,851.31 L918.95,848.30 L914.76,845.23 L910.58,842.13 L906.39,838.99 L902.20,835.83 L898.02,832.65 L893.83,829.45 L889.65,826.25 L885.46,823.05 L881.28,819.86 L877.09,816.67 L872.91,813.51 L868.72,810.36 L864.53,807.25 L860.35,804.17 L856.16,801.13 L851.98,798.14 L847.79,795.20 L843.61,792.31 L839.42,789.49 L835.24,786.74 L831.05,784.06 L826.87,781.46 L822.68,778.94 L818.49,776.52 L814.31,774.20 L810.12,771.98 L805.94,769.87 L801.75,767.89 L797.57,766.02 L793.38,764.29 L789.20,762.69 L785.01,761.24 L780.83,759.94 L776.64,758.80 L772.45,757.82 L768.27,757.01 L764.08,756.38 L759.90,755.92 L755.71,755.64 L751.53,755.55 L747.34,755.64 L743.16,755.92 L738.97,756.40 L734.78,757.07 L730.60,757.92 L726.41,758.95 L722.23,760.15 L718.04,761.51 L713.86,763.04 L709.67,764.71 L705.49,766.52 L701.30,768.46 L697.12,770.53 L692.93,772.70 L688.74,774.98 L684.56,777.35 L680.37,779.80 L676.19,782.33 L672.00,784.93 L667.82,787.58 L663.63,790.29 L659.45,793.04 L655.26,795.84 L651.07,798.66 L646.89,801.51 L642.70,804.39 L638.52,807.28 L634.33,810.18 L630.15,813.08 L625.96,815.98 L621.78,818.88 L617.59,821.77 L613.40,824.64 L609.22,827.49 L605.03,830.31 L600.85,833.10 L596.66,835.86 L592.48,838.57 L588.29,841.25 L584.11,843.87 L579.92,846.44 L575.74,848.96 L571.55,851.43 L567.36,853.84 L563.18,856.20 L558.99,858.50 L554.81,860.74 L550.62,862.93 L546.44,865.06 L542.25,867.14 L538.07,869.16 L533.88,871.13 L529.69,873.05 L525.51,874.91 L521.32,876.72 L517.14,878.47 L512.95,880.18 L508.77,881.83 L504.58,883.44 L500.40,884.99 L496.21,886.49 L492.03,887.94 L487.84,889.34 L483.65,890.69 L479.47,892.00 L475.28,893.25 L471.10,894.46 L466.91,895.62 L462.73,896.73 L458.54,897.80 L454.36,898.82 L450.17,899.80 L445.99,900.74 L441.80,901.63 L437.61,902.49 L433.43,903.30 L429.24,904.08 L425.06,904.81 L420.87,905.51 L416.69,906.18 L412.50,906.81 L408.32,907.41 L404.13,907.98 L399.94,908.51 L395.76,909.02 L391.57,909.50 L387.39,909.95 L383.20,910.38 L379.02,910.78 L374.83,911.16 L370.65,911.51 L366.46,911.85 L362.27,912.16 L358.09,912.46 L353.90,912.73 L349.72,912.99 L345.53,913.23 L341.35,913.46 L337.16,913.67 L332.98,913.86 L328.79,914.05 L324.61,914.22 L320.42,914.38 L316.23,914.53 L312.05,914.67 L307.86,914.80 L303.68,914.92 L299.49,915.03 L295.31,915.13 L291.12,915.23 L286.94,915.32 L282.75,915.40 L278.56,915.48 L274.38,915.55 L270.19,915.62 L266.01,915.68 L261.82,915.74 L257.64,915.79 L253.45,915.84 L249.27,915.89 L245.08,915.93 L240.90,915.97 L236.71,916.00 L232.52,916.04 L228.34,916.07 L224.15,916.10 L219.97,916.12 L215.78,916.14 L211.60,916.17 L207.41,916.19 L203.23,916.21 L199.04,916.22 L194.85,916.24 L190.67,916.25 L186.48,916.27 L182.30,916.28 L178.11,916.29 L173.93,916.30 L169.74,916.31 L165.56,916.32 L161.37,916.32 L157.19,916.33 L153.00,916.34 Z" fill="#CA5B50" fill-opacity="0.25" stroke="none"/>
<path d="M153.00,916.19 L157.19,916.17 L161.37,916.15 L165.56,916.12 L169.74,916.09 L173.93,916.06 L178.11,916.03 L182.30,915.99 L186.48,915.95 L190.67,915.91 L194.85,915.86 L199.04,915.81 L203.23,915.76 L207.41,915.69 L211.60,915.63 L215.78,915.56 L219.97,915.48 L224.15,915.39 L228.34,915.30 L232.52,915.20 L236.71,915.09 L240.90,914.97 L245.08,914.84 L249.27,914.70 L253.45,914.55 L257.64,914.39 L261.82,914.21 L266.01,914.02 L270.19,913.82 L274.38,913.60 L278.56,913.36 L282.75,913.10 L286.94,912.83 L291.12,912.53 L295.31,912.21 L299.49,911.87 L303.68,911.50 L307.86,911.11 L312.05,910.69 L316.23,910.24 L320.42,909.76 L324.61,909.24 L328.79,908.70 L332.98,908.11 L337.16,907.49 L341.35,906.83 L345.53,906.13 L349.72,905.39 L353.90,904.60 L358.09,903.77 L362.27,902.89 L366.46,901.96 L370.65,900.97 L374.83,899.94 L379.02,898.85 L383.20,897.70 L387.39,896.49 L391.57,895.22 L395.76,893.89 L399.94,892.50 L404.13,891.04 L408.32,889.52 L412.50,887.93 L416.69,886.27 L420.87,884.54 L425.06,882.74 L429.24,880.87 L433.43,878.92 L437.61,876.89 L441.80,874.79 L445.99,872.60 L450.17,870.33 L454.36,867.98 L458.54,865.53 L462.73,862.99 L466.91,860.35 L471.10,857.61 L475.28,854.77 L479.47,851.82 L483.65,848.76 L487.84,845.59 L492.03,842.31 L496.21,838.91 L500.40,835.40 L504.58,831.77 L508.77,828.03 L512.95,824.16 L517.14,820.18 L521.32,816.09 L525.51,811.88 L529.69,807.56 L533.88,803.13 L538.07,798.59 L542.25,793.94 L546.44,789.18 L550.62,784.33 L554.81,779.38 L558.99,774.33 L563.18,769.18 L567.36,763.95 L571.55,758.64 L575.74,753.24 L579.92,747.78 L584.11,742.24 L588.29,736.64 L592.48,730.99 L596.66,725.29 L600.85,719.55 L605.03,713.78 L609.22,707.99 L613.40,702.20 L617.59,696.40 L621.78,690.62 L625.96,684.87 L630.15,679.15 L634.33,673.49 L638.52,667.90 L642.70,662.38 L646.89,656.96 L651.07,651.65 L655.26,646.46 L659.45,641.40 L663.63,636.49 L667.82,631.74 L672.00,627.16 L676.19,622.77 L680.37,618.57 L684.56,614.57 L688.74,610.78 L692.93,607.21 L697.12,603.86 L701.30,600.74 L705.49,597.85 L709.67,595.21 L713.86,592.80 L718.04,590.63 L722.23,588.71 L726.41,587.03 L730.60,585.59 L734.78,584.40 L738.97,583.45 L743.16,582.73 L747.34,582.26 L751.53,582.02 L755.71,582.00 L759.90,582.19 L764.08,582.58 L768.27,583.18 L772.45,583.99 L776.64,584.99 L780.83,586.19 L785.01,587.60 L789.20,589.19 L793.38,590.98 L797.57,592.97 L801.75,595.14 L805.94,597.51 L810.12,600.06 L814.31,602.79 L818.49,605.70 L822.68,608.78 L826.87,612.03 L831.05,615.43 L835.24,618.99 L839.42,622.68 L843.61,626.51 L847.79,630.46 L851.98,634.53 L856.16,638.70 L860.35,642.98 L864.53,647.34 L868.72,651.78 L872.91,656.31 L877.09,660.91 L881.28,665.57 L885.46,670.30 L889.65,675.09 L893.83,679.93 L898.02,684.83 L902.20,689.77 L906.39,694.76 L910.58,699.79 L914.76,704.85 L918.95,709.95 L923.13,715.06 L927.32,720.20 L931.50,725.35 L935.69,730.51 L939.87,735.66 L944.06,740.81 L948.25,745.95 L952.43,751.07 L956.62,756.17 L960.80,761.23 L964.99,766.26 L969.17,771.25 L973.36,776.19 L977.54,781.07 L981.73,785.90 L985.91,790.66 L990.10,795.35 L994.29,799.97 L998.47,804.51 L998.47,892.50 L994.29,890.94 L990.10,889.30 L985.91,887.58 L981.73,885.77 L977.54,883.88 L973.36,881.90 L969.17,879.83 L964.99,877.67 L960.80,875.42 L956.62,873.08 L952.43,870.65 L948.25,868.14 L944.06,865.53 L939.87,862.85 L935.69,860.08 L931.50,857.24 L927.32,854.33 L923.13,851.36 L918.95,848.32 L914.76,845.24 L910.58,842.10 L906.39,838.93 L902.20,835.72 L898.02,832.48 L893.83,829.23 L889.65,825.96 L885.46,822.68 L881.28,819.39 L877.09,816.11 L872.91,812.84 L868.72,809.59 L864.53,806.35 L860.35,803.14 L856.16,799.97 L851.98,796.83 L847.79,793.74 L843.61,790.69 L839.42,787.70 L835.24,784.77 L831.05,781.91 L826.87,779.12 L822.68,776.42 L818.49,773.80 L814.31,771.27 L810.12,768.85 L805.94,766.54 L801.75,764.34 L797.57,762.27 L793.38,760.33 L789.20,758.54 L785.01,756.90 L780.83,755.42 L776.64,754.11 L772.45,752.97 L768.27,752.01 L764.08,751.24 L759.90,750.66 L755.71,750.27 L751.53,750.08 L747.34,750.09 L743.16,750.30 L738.97,750.72 L734.78,751.33 L730.60,752.13 L726.41,753.11 L722.23,754.28 L718.04,755.61 L713.86,757.10 L709.67,758.74 L705.49,760.51 L701.30,762.42 L697.12,764.44 L692.93,766.58 L688.74,768.81 L684.56,771.13 L680.37,773.54 L676.19,776.01 L672.00,778.56 L667.82,781.15 L663.63,783.80 L659.45,786.50 L655.26,789.24 L651.07,792.01 L646.89,794.81 L642.70,797.63 L638.52,800.48 L634.33,803.34 L630.15,806.23 L625.96,809.12 L621.78,812.01 L617.59,814.91 L613.40,817.81 L609.22,820.70 L605.03,823.58 L600.85,826.45 L596.66,829.30 L592.48,832.12 L588.29,834.91 L584.11,837.67 L579.92,840.40 L575.74,843.08 L571.55,845.73 L567.36,848.32 L563.18,850.86 L558.99,853.36 L554.81,855.80 L550.62,858.19 L546.44,860.52 L542.25,862.79 L538.07,865.01 L533.88,867.17 L529.69,869.28 L525.51,871.32 L521.32,873.31 L517.14,875.24 L512.95,877.11 L508.77,878.93 L504.58,880.69 L500.40,882.39 L496.21,884.03 L492.03,885.62 L487.84,887.16 L483.65,888.63 L479.47,890.06 L475.28,891.42 L471.10,892.74 L466.91,894.00 L462.73,895.22 L458.54,896.38 L454.36,897.49 L450.17,898.55 L445.99,899.57 L441.80,900.54 L437.61,901.46 L433.43,902.34 L429.24,903.18 L425.06,903.98 L420.87,904.73 L416.69,905.45 L412.50,906.13 L408.32,906.78 L404.13,907.39 L399.94,907.97 L395.76,908.52 L391.57,909.03 L387.39,909.52 L383.20,909.98 L379.02,910.41 L374.83,910.82 L370.65,911.20 L366.46,911.55 L362.27,911.89 L358.09,912.21 L353.90,912.50 L349.72,912.78 L345.53,913.03 L341.35,913.27 L337.16,913.50 L332.98,913.71 L328.79,913.91 L324.61,914.09 L320.42,914.26 L316.23,914.42 L312.05,914.56 L307.86,914.70 L303.68,914.83 L299.49,914.95 L295.31,915.06 L291.12,915.16 L286.94,915.26 L282.75,915.34 L278.56,915.43 L274.38,915.50 L270.19,915.57 L266.01,915.64 L261.82,915.70 L257.64,915.76 L253.45,915.81 L249.27,915.86 L245.08,915.90 L240.90,915.94 L236.71,915.98 L232.52,916.02 L228.34,916.05 L224.15,916.08 L219.97,916.10 L215.78,916.13 L211.60,916.15 L207.41,916.17 L203.23,916.19 L199.04,916.21 L194.85,916.23 L190.67,916.24 L186.48,916.26 L182.30,916.27 L178.11,916.28 L173.93,916.29 L169.74,916.30 L165.56,916.31 L161.37,916.32 L157.19,916.33 L153.00,916.33 Z" fill="#4386D4" fill-opacity="0.25" stroke="none"/>
<path d="M153.00,916.31 L157.19,916.30 L161.37,916.29 L165.56,916.28 L169.74,916.26 L173.93,916.25 L178.11,916.24 L182.30,916.22 L186.48,916.20 L190.67,916.18 L194.85,916.16 L199.04,916.14 L203.23,916.11 L207.41,916.09 L211.60,916.06 L215.78,916.03 L219.97,915.99 L224.15,915.95 L228.34,915.91 L232.52,915.87 L236.71,915.82 L240.90,915.77 L245.08,915.71 L249.27,915.65 L253.45,915.58 L257.64,915.51 L261.82,915.43 L266.01,915.35 L270.19,915.26 L274.38,915.16 L278.56,915.05 L282.75,914.94 L286.94,914.82 L291.12,914.69 L295.31,914.54 L299.49,914.39 L303.68,914.23 L307.86,914.05 L312.05,913.86 L316.23,913.66 L320.42,913.45 L324.61,913.22 L328.79,912.97 L332.98,912.71 L337.16,912.42 L341.35,912.12 L345.53,911.80 L349.72,911.46 L353.90,911.09 L358.09,910.71 L362.27,910.29 L366.46,909.85 L370.65,909.39 L374.83,908.89 L379.02,908.37 L383.20,907.81 L387.39,907.23 L391.57,906.60 L395.76,905.95 L399.94,905.25 L404.13,904.52 L408.32,903.74 L412.50,902.93 L416.69,902.07 L420.87,901.16 L425.06,900.21 L429.24,899.21 L433.43,898.16 L437.61,897.06 L441.80,895.91 L445.99,894.70 L450.17,893.43 L454.36,892.11 L458.54,890.73 L462.73,889.29 L466.91,887.79 L471.10,886.23 L475.28,884.60 L479.47,882.90 L483.65,881.15 L487.84,879.32 L492.03,877.43 L496.21,875.46 L500.40,873.43 L504.58,871.33 L508.77,869.17 L512.95,866.93 L517.14,864.62 L521.32,862.25 L525.51,859.80 L529.69,857.29 L533.88,854.71 L538.07,852.07 L542.25,849.36 L546.44,846.59 L550.62,843.76 L554.81,840.87 L558.99,837.92 L563.18,834.92 L567.36,831.87 L571.55,828.77 L575.74,825.62 L579.92,822.44 L584.11,819.21 L588.29,815.95 L592.48,812.67 L596.66,809.35 L600.85,806.02 L605.03,802.68 L609.22,799.32 L613.40,795.96 L617.59,792.60 L621.78,789.25 L625.96,785.91 L630.15,782.60 L634.33,779.30 L638.52,776.05 L642.70,772.83 L646.89,769.65 L651.07,766.53 L655.26,763.47 L659.45,760.47 L663.63,757.55 L667.82,754.71 L672.00,751.95 L676.19,749.29 L680.37,746.73 L684.56,744.28 L688.74,741.93 L692.93,739.71 L697.12,737.62 L701.30,735.65 L705.49,733.82 L709.67,732.14 L713.86,730.60 L718.04,729.21 L722.23,727.98 L726.41,726.91 L730.60,726.00 L734.78,725.26 L738.97,724.68 L743.16,724.28 L747.34,724.06 L751.53,724.00 L755.71,724.12 L759.90,724.40 L764.08,724.84 L768.27,725.44 L772.45,726.20 L776.64,727.12 L780.83,728.19 L785.01,729.42 L789.20,730.80 L793.38,732.32 L797.57,733.99 L801.75,735.79 L805.94,737.73 L810.12,739.80 L814.31,741.99 L818.49,744.31 L822.68,746.73 L826.87,749.27 L831.05,751.90 L835.24,754.63 L839.42,757.45 L843.61,760.36 L847.79,763.34 L851.98,766.39 L856.16,769.51 L860.35,772.68 L864.53,775.91 L868.72,779.18 L872.91,782.48 L877.09,785.82 L881.28,789.19 L885.46,792.57 L889.65,795.96 L893.83,799.36 L898.02,802.76 L902.20,806.16 L906.39,809.55 L910.58,812.92 L914.76,816.27 L918.95,819.59 L923.13,822.88 L927.32,826.14 L931.50,829.35 L935.69,832.53 L939.87,835.65 L944.06,838.73 L948.25,841.75 L952.43,844.72 L956.62,847.63 L960.80,850.47 L964.99,853.25 L969.17,855.97 L973.36,858.61 L977.54,861.19 L981.73,863.70 L985.91,866.14 L990.10,868.50 L994.29,870.79 L998.47,873.01" fill="none" stroke="#4D4D4D" stroke-width="4.3" stroke-linejoin="round" stroke-linecap="butt"/>
<path d="M153.00,916.29 L157.19,916.28 L161.37,916.27 L165.56,916.26 L169.74,916.24 L173.93,916.23 L178.11,916.21 L182.30,916.19 L186.48,916.17 L190.67,916.15 L194.85,916.13 L199.04,916.10 L203.23,916.07 L207.41,916.04 L211.60,916.01 L215.78,915.97 L219.97,915.93 L224.15,915.89 L228.34,915.84 L232.52,915.79 L236.71,915.73 L240.90,915.67 L245.08,915.61 L249.27,915.54 L253.45,915.46 L257.64,915.38 L261.82,915.29 L266.01,915.19 L270.19,915.09 L274.38,914.98 L278.56,914.86 L282.75,914.72 L286.94,914.58 L291.12,914.43 L295.31,914.27 L299.49,914.10 L303.68,913.91 L307.86,913.71 L312.05,913.49 L316.23,913.26 L320.42,913.01 L324.61,912.75 L328.79,912.47 L332.98,912.16 L337.16,911.84 L341.35,911.49 L345.53,911.13 L349.72,910.73 L353.90,910.31 L358.09,909.87 L362.27,909.40 L366.46,908.89 L370.65,908.36 L374.83,907.79 L379.02,907.19 L383.20,906.55 L387.39,905.88 L391.57,905.16 L395.76,904.41 L399.94,903.61 L404.13,902.77 L408.32,901.88 L412.50,900.94 L416.69,899.96 L420.87,898.92 L425.06,897.83 L429.24,896.68 L433.43,895.48 L437.61,894.22 L441.80,892.89 L445.99,891.51 L450.17,890.06 L454.36,888.54 L458.54,886.96 L462.73,885.31 L466.91,883.59 L471.10,881.79 L475.28,879.92 L479.47,877.98 L483.65,875.96 L487.84,873.87 L492.03,871.70 L496.21,869.45 L500.40,867.12 L504.58,864.71 L508.77,862.22 L512.95,859.66 L517.14,857.01 L521.32,854.29 L525.51,851.48 L529.69,848.60 L533.88,845.64 L538.07,842.61 L542.25,839.51 L546.44,836.33 L550.62,833.08 L554.81,829.76 L558.99,826.38 L563.18,822.94 L567.36,819.44 L571.55,815.89 L575.74,812.28 L579.92,808.62 L584.11,804.92 L588.29,801.19 L592.48,797.42 L596.66,793.62 L600.85,789.80 L605.03,785.96 L609.22,782.11 L613.40,778.26 L617.59,774.40 L621.78,770.56 L625.96,766.73 L630.15,762.93 L634.33,759.15 L638.52,755.41 L642.70,751.72 L646.89,748.08 L651.07,744.50 L655.26,740.99 L659.45,737.55 L663.63,734.20 L667.82,730.94 L672.00,727.78 L676.19,724.73 L680.37,721.79 L684.56,718.97 L688.74,716.29 L692.93,713.74 L697.12,711.34 L701.30,709.08 L705.49,706.98 L709.67,705.05 L713.86,703.28 L718.04,701.69 L722.23,700.28 L726.41,699.05 L730.60,698.01 L734.78,697.16 L738.97,696.50 L743.16,696.04 L747.34,695.78 L751.53,695.72 L755.71,695.85 L759.90,696.17 L764.08,696.68 L768.27,697.37 L772.45,698.24 L776.64,699.29 L780.83,700.53 L785.01,701.93 L789.20,703.51 L793.38,705.26 L797.57,707.17 L801.75,709.24 L805.94,711.47 L810.12,713.84 L814.31,716.36 L818.49,719.01 L822.68,721.79 L826.87,724.70 L831.05,727.72 L835.24,730.85 L839.42,734.09 L843.61,737.42 L847.79,740.84 L851.98,744.34 L856.16,747.92 L860.35,751.56 L864.53,755.26 L868.72,759.01 L872.91,762.80 L877.09,766.63 L881.28,770.49 L885.46,774.36 L889.65,778.26 L893.83,782.16 L898.02,786.06 L902.20,789.96 L906.39,793.84 L910.58,797.70 L914.76,801.55 L918.95,805.36 L923.13,809.13 L927.32,812.87 L931.50,816.56 L935.69,820.20 L939.87,823.79 L944.06,827.31 L948.25,830.78 L952.43,834.18 L956.62,837.52 L960.80,840.78 L964.99,843.97 L969.17,847.08 L973.36,850.12 L977.54,853.08 L981.73,855.95 L985.91,858.75 L990.10,861.46 L994.29,864.09 L998.47,866.64" fill="none" stroke="#CA5B50" stroke-width="4.3" stroke-linejoin="round" stroke-linecap="butt"/>
<path d="M153.00,916.29 L157.19,916.28 L161.37,916.26 L165.56,916.25 L169.74,916.24 L173.93,916.22 L178.11,916.20 L182.30,916.18 L186.48,916.16 L190.67,916.14 L194.85,916.11 L199.04,916.08 L203.23,916.05 L207.41,916.02 L211.60,915.98 L215.78,915.95 L219.97,915.90 L224.15,915.86 L228.34,915.81 L232.52,915.75 L236.71,915.69 L240.90,915.63 L245.08,915.56 L249.27,915.49 L253.45,915.41 L257.64,915.32 L261.82,915.22 L266.01,915.12 L270.19,915.01 L274.38,914.89 L278.56,914.76 L282.75,914.63 L286.94,914.48 L291.12,914.32 L295.31,914.14 L299.49,913.96 L303.68,913.76 L307.86,913.55 L312.05,913.32 L316.23,913.07 L320.42,912.81 L324.61,912.53 L328.79,912.23 L332.98,911.91 L337.16,911.57 L341.35,911.20 L345.53,910.81 L349.72,910.40 L353.90,909.95 L358.09,909.48 L362.27,908.98 L366.46,908.45 L370.65,907.88 L374.83,907.28 L379.02,906.64 L383.20,905.97 L387.39,905.25 L391.57,904.50 L395.76,903.70 L399.94,902.85 L404.13,901.96 L408.32,901.02 L412.50,900.03 L416.69,898.98 L420.87,897.89 L425.06,896.73 L429.24,895.51 L433.43,894.24 L437.61,892.90 L441.80,891.50 L445.99,890.03 L450.17,888.50 L454.36,886.89 L458.54,885.21 L462.73,883.46 L466.91,881.64 L471.10,879.74 L475.28,877.76 L479.47,875.70 L483.65,873.57 L487.84,871.35 L492.03,869.05 L496.21,866.66 L500.40,864.20 L504.58,861.65 L508.77,859.01 L512.95,856.29 L517.14,853.49 L521.32,850.60 L525.51,847.63 L529.69,844.58 L533.88,841.45 L538.07,838.24 L542.25,834.95 L546.44,831.58 L550.62,828.14 L554.81,824.63 L558.99,821.05 L563.18,817.40 L567.36,813.69 L571.55,809.93 L575.74,806.10 L579.92,802.23 L584.11,798.32 L588.29,794.36 L592.48,790.36 L596.66,786.34 L600.85,782.29 L605.03,778.23 L609.22,774.15 L613.40,770.07 L617.59,765.99 L621.78,761.91 L625.96,757.86 L630.15,753.83 L634.33,749.83 L638.52,745.87 L642.70,741.96 L646.89,738.10 L651.07,734.31 L655.26,730.59 L659.45,726.95 L663.63,723.40 L667.82,719.94 L672.00,716.60 L676.19,713.36 L680.37,710.25 L684.56,707.27 L688.74,704.42 L692.93,701.73 L697.12,699.18 L701.30,696.79 L705.49,694.57 L709.67,692.52 L713.86,690.65 L718.04,688.96 L722.23,687.47 L726.41,686.17 L730.60,685.06 L734.78,684.16 L738.97,683.47 L743.16,682.98 L747.34,682.70 L751.53,682.64 L755.71,682.78 L759.90,683.11 L764.08,683.65 L768.27,684.38 L772.45,685.31 L776.64,686.42 L780.83,687.73 L785.01,689.22 L789.20,690.89 L793.38,692.75 L797.57,694.77 L801.75,696.96 L805.94,699.32 L810.12,701.83 L814.31,704.50 L818.49,707.31 L822.68,710.25 L826.87,713.33 L831.05,716.53 L835.24,719.85 L839.42,723.28 L843.61,726.81 L847.79,730.43 L851.98,734.14 L856.16,737.93 L860.35,741.78 L864.53,745.70 L868.72,749.67 L872.91,753.69 L877.09,757.75 L881.28,761.83 L885.46,765.94 L889.65,770.07 L893.83,774.20 L898.02,778.33 L902.20,782.46 L906.39,786.57 L910.58,790.67 L914.76,794.74 L918.95,798.77 L923.13,802.77 L927.32,806.73 L931.50,810.64 L935.69,814.50 L939.87,818.29 L944.06,822.03 L948.25,825.70 L952.43,829.31 L956.62,832.84 L960.80,836.30 L964.99,839.68 L969.17,842.97 L973.36,846.19 L977.54,849.32 L981.73,852.37 L985.91,855.33 L990.10,858.20 L994.29,860.99 L998.47,863.69" fill="none" stroke="#4386D4" stroke-width="4.3" stroke-linejoin="round" stroke-linecap="butt"/>
</g>
<path d="M153.00,546.40 L153.00,916.40 L990.10,916.40" fill="none" stroke="#000" stroke-width="2.35" stroke-linecap="square" stroke-linejoin="miter"/>
<line x1="153.00" y1="916.40" x2="153.00" y2="930.70" stroke="#000" stroke-width="2.45" stroke-linecap="round"/>
<line x1="320.42" y1="916.40" x2="320.42" y2="930.70" stroke="#000" stroke-width="2.45" stroke-linecap="round"/>
<line x1="487.84" y1="916.40" x2="487.84" y2="930.70" stroke="#000" stroke-width="2.45" stroke-linecap="round"/>
<line x1="655.26" y1="916.40" x2="655.26" y2="930.70" stroke="#000" stroke-width="2.45" stroke-linecap="round"/>
<line x1="822.68" y1="916.40" x2="822.68" y2="930.70" stroke="#000" stroke-width="2.45" stroke-linecap="round"/>
<line x1="990.10" y1="916.40" x2="990.10" y2="930.70" stroke="#000" stroke-width="2.45" stroke-linecap="round"/>
<line x1="153.00" y1="916.40" x2="138.70" y2="916.40" stroke="#000" stroke-width="2.45" stroke-linecap="round"/>
<line x1="153.00" y1="823.90" x2="138.70" y2="823.90" stroke="#000" stroke-width="2.45" stroke-linecap="round"/>
<line x1="153.00" y1="731.40" x2="138.70" y2="731.40" stroke="#000" stroke-width="2.45" stroke-linecap="round"/>
<line x1="153.00" y1="638.90" x2="138.70" y2="638.90" stroke="#000" stroke-width="2.45" stroke-linecap="round"/>
<line x1="153.00" y1="546.40" x2="138.70" y2="546.40" stroke="#000" stroke-width="2.45" stroke-linecap="round"/>
<text x="153.00" y="968.10" font-size="27" fill="#747474" text-anchor="middle">0</text>
<text x="320.42" y="968.10" font-size="27" fill="#747474" text-anchor="middle">20</text>
<text x="487.84" y="968.10" font-size="27" fill="#747474" text-anchor="middle">40</text>
<text x="655.26" y="968.10" font-size="27" fill="#747474" text-anchor="middle">60</text>
<text x="822.68" y="968.10" font-size="27" fill="#747474" text-anchor="middle">80</text>
<text x="990.10" y="968.10" font-size="27" fill="#747474" text-anchor="middle">100</text>
<text x="124.20" y="926.50" font-size="27" fill="#747474" text-anchor="end">0.000</text>
<text x="124.20" y="834.00" font-size="27" fill="#747474" text-anchor="end">0.005</text>
<text x="124.20" y="741.50" font-size="27" fill="#747474" text-anchor="end">0.010</text>
<text x="124.20" y="649.00" font-size="27" fill="#747474" text-anchor="end">0.015</text>
<text x="124.20" y="556.50" font-size="27" fill="#747474" text-anchor="end">0.020</text>
<text x="152.6" y="541.0" font-size="36" font-weight="bold" fill="#000">c</text>
<text transform="translate(37.6,894.0) rotate(-90)" font-size="32.5" fill="#000" text-anchor="start">MM Prog<tspan letter-spacing="0.6">ression </tspan>(y<tspan dx="-2">r</tspan><tspan font-size="26" dy="-14.15" dx="-1.4">−</tspan><tspan font-size="22.5" dy="-3.85" dx="-2.3">1</tspan><tspan dy="18" dx="3.2">)</tspan></text>
<text x="571.55" y="1004.3" font-size="35.75" fill="#000" text-anchor="middle">Age (yr)</text>
</g>
<g id="panel-b">
<g clip-path="url(#clipB)">
<line x1="1172.45" y1="283.17" x2="1519.9" y2="283.17" stroke="#7E7E7E" stroke-width="4.7" stroke-linecap="round" stroke-dasharray="13.3 22.6"/>
</g>
<line x1="1254.35" y1="309.1" x2="1254.35" y2="353.5" stroke="#CA5B50" stroke-width="4.7" stroke-linecap="round"/>
<line x1="1418.0" y1="70.3" x2="1418.0" y2="233.4" stroke="#4386D4" stroke-width="4.7" stroke-linecap="round"/>
<circle cx="1254.35" cy="334.3" r="14.35" fill="#fff"/>
<circle cx="1254.35" cy="334.3" r="12.2" fill="#CA5B50"/>
<circle cx="1418.0" cy="163.2" r="14.35" fill="#fff"/>
<circle cx="1418.0" cy="163.2" r="12.2" fill="#4386D4"/>
<path d="M1172.45,36.50 L1172.45,406.50 L1499.90,406.50" fill="none" stroke="#000" stroke-width="2.35" stroke-linecap="square" stroke-linejoin="miter"/>
<line x1="1254.35" y1="406.50" x2="1254.35" y2="420.80" stroke="#000" stroke-width="2.45" stroke-linecap="round"/>
<line x1="1418.00" y1="406.50" x2="1418.00" y2="420.80" stroke="#000" stroke-width="2.45" stroke-linecap="round"/>
<line x1="1172.45" y1="406.50" x2="1158.15" y2="406.50" stroke="#000" stroke-width="2.45" stroke-linecap="round"/>
<line x1="1172.45" y1="344.83" x2="1158.15" y2="344.83" stroke="#000" stroke-width="2.45" stroke-linecap="round"/>
<line x1="1172.45" y1="283.17" x2="1158.15" y2="283.17" stroke="#000" stroke-width="2.45" stroke-linecap="round"/>
<line x1="1172.45" y1="221.50" x2="1158.15" y2="221.50" stroke="#000" stroke-width="2.45" stroke-linecap="round"/>
<line x1="1172.45" y1="159.83" x2="1158.15" y2="159.83" stroke="#000" stroke-width="2.45" stroke-linecap="round"/>
<line x1="1172.45" y1="98.17" x2="1158.15" y2="98.17" stroke="#000" stroke-width="2.45" stroke-linecap="round"/>
<line x1="1172.45" y1="36.50" x2="1158.15" y2="36.50" stroke="#000" stroke-width="2.45" stroke-linecap="round"/>
<text x="1254.35" y="458.00" font-size="23.9" fill="#747474" text-anchor="middle">Female Gender</text>
<text x="1418.00" y="458.00" font-size="23.9" fill="#747474" text-anchor="middle">Black Race</text>
<text x="1143.65" y="416.60" font-size="27" fill="#747474" text-anchor="end">0.0</text>
<text x="1143.65" y="354.93" font-size="27" fill="#747474" text-anchor="end">0.5</text>
<text x="1143.65" y="293.27" font-size="27" fill="#747474" text-anchor="end">1.0</text>
<text x="1143.65" y="231.60" font-size="27" fill="#747474" text-anchor="end">1.5</text>
<text x="1143.65" y="169.93" font-size="27" fill="#747474" text-anchor="end">2.0</text>
<text x="1143.65" y="108.27" font-size="27" fill="#747474" text-anchor="end">2.5</text>
<text x="1143.65" y="46.60" font-size="27" fill="#747474" text-anchor="end">3.0</text>
<circle cx="1199.9" cy="65.1" r="10.8" fill="#7E7E7E"/>
<line x1="1179.3" y1="93.5" x2="1221.0" y2="93.5" stroke="#7E7E7E" stroke-width="4.7" stroke-linecap="round"/>
<text x="1243.4" y="74" font-size="23.9" fill="#000">Median</text>
<text x="1243.4" y="102.2" font-size="23.9" fill="#000">95% CI</text>
<text x="1172.2" y="31.1" font-size="36" font-weight="bold" fill="#000">b</text>
<text transform="translate(1092.9,221.6) rotate(-90)" font-size="35.75" fill="#000" text-anchor="middle">MGUS Multiplier</text>
</g>
<g id="panel-d">
<g clip-path="url(#clipD)">
<line x1="1172.45" y1="731.40" x2="1519.9" y2="731.40" stroke="#7E7E7E" stroke-width="4.7" stroke-linecap="round" stroke-dasharray="13.3 22.6"/>
</g>
<line x1="1254.35" y1="614.05" x2="1254.35" y2="765.4" stroke="#CA5B50" stroke-width="4.7" stroke-linecap="round"/>
<line x1="1418.0" y1="585.4" x2="1418.0" y2="760.6" stroke="#4386D4" stroke-width="4.7" stroke-linecap="round"/>
<circle cx="1254.35" cy="703.7" r="14.35" fill="#fff"/>
<circle cx="1254.35" cy="703.7" r="12.2" fill="#CA5B50"/>
<circle cx="1418.0" cy="691.4" r="14.35" fill="#fff"/>
<circle cx="1418.0" cy="691.4" r="12.2" fill="#4386D4"/>
<path d="M1172.45,546.40 L1172.45,916.40 L1499.90,916.40" fill="none" stroke="#000" stroke-width="2.35" stroke-linecap="square" stroke-linejoin="miter"/>
<line x1="1254.35" y1="916.40" x2="1254.35" y2="930.70" stroke="#000" stroke-width="2.45" stroke-linecap="round"/>
<line x1="1418.00" y1="916.40" x2="1418.00" y2="930.70" stroke="#000" stroke-width="2.45" stroke-linecap="round"/>
<line x1="1172.45" y1="916.40" x2="1158.15" y2="916.40" stroke="#000" stroke-width="2.45" stroke-linecap="round"/>
<line x1="1172.45" y1="823.90" x2="1158.15" y2="823.90" stroke="#000" stroke-width="2.45" stroke-linecap="round"/>
<line x1="1172.45" y1="731.40" x2="1158.15" y2="731.40" stroke="#000" stroke-width="2.45" stroke-linecap="round"/>
<line x1="1172.45" y1="638.90" x2="1158.15" y2="638.90" stroke="#000" stroke-width="2.45" stroke-linecap="round"/>
<line x1="1172.45" y1="546.40" x2="1158.15" y2="546.40" stroke="#000" stroke-width="2.45" stroke-linecap="round"/>
<text x="1254.35" y="967.90" font-size="23.9" fill="#747474" text-anchor="middle">Female Gender</text>
<text x="1418.00" y="967.90" font-size="23.9" fill="#747474" text-anchor="middle">Black Race</text>
<text x="1143.65" y="926.50" font-size="27" fill="#747474" text-anchor="end">0.0</text>
<text x="1143.65" y="834.00" font-size="27" fill="#747474" text-anchor="end">0.5</text>
<text x="1143.65" y="741.50" font-size="27" fill="#747474" text-anchor="end">1.0</text>
<text x="1143.65" y="649.00" font-size="27" fill="#747474" text-anchor="end">1.5</text>
<text x="1143.65" y="556.50" font-size="27" fill="#747474" text-anchor="end">2.0</text>
<text x="1171.8" y="540.8" font-size="36" font-weight="bold" fill="#000">d</text>
<text transform="translate(1092.9,731.2) rotate(-90)" font-size="35.75" fill="#000" text-anchor="middle">MM Multiplier</text>
<text x="1336" y="1004.3" font-size="35.75" fill="#000" text-anchor="middle">Covariate</text>
</g>
</svg>
</body></html>
